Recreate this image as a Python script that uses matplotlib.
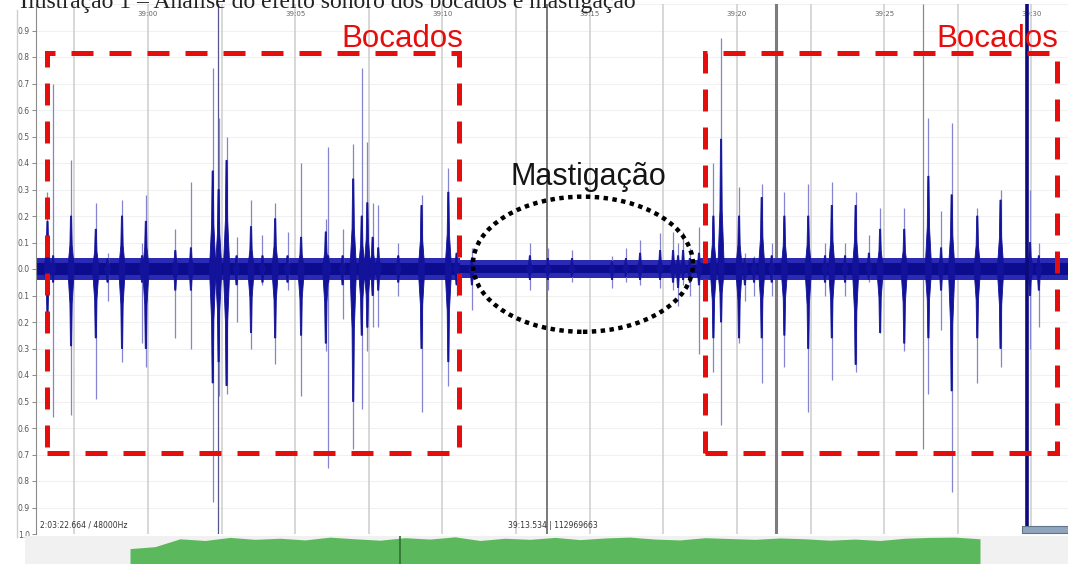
import numpy as np
import matplotlib
matplotlib.use("Agg")
import matplotlib.pyplot as plt
from matplotlib.patches import Rectangle, Ellipse
from matplotlib.lines import Line2D

# ---- data (time in s after 39:00, amplitude -1..1) ----
title = "Ilustração 1 – Análise do efeito sonoro dos bocados e mastigação"
time_ticks = [0, 5, 10, 15, 20, 25, 30]
time_labels = ["39:00", "39:05", "39:10", "39:15", "39:20", "39:25", "39:30"]

band_t = [-3.80, 10.60, 18.70, 31.24]
band_outer = [0.043, 0.034, 0.043]
band_inner = [0.022, 0.016, 0.022]

spike_t = [-3.41, -3.22, -2.61, -1.77, -1.37, -0.88, -0.20, -0.07, 0.93, 1.46,
           2.20, 2.40, 2.67, 3.01, 3.50, 3.89, 4.32, 4.74, 5.20, 6.04,
           6.12, 6.61, 6.97, 7.26, 7.45, 7.63, 7.82, 8.50, 9.29, 10.20,
           10.48, 11.00, 12.97, 13.58, 14.40, 15.76, 16.23, 16.71, 17.39, 17.83,
           18.00, 18.17, 18.40, 18.71, 19.20, 19.46, 20.07, 20.27, 20.58, 20.84,
           21.18, 21.61, 22.42, 22.99, 23.22, 23.67, 24.03, 24.48, 24.86, 25.68,
           26.50, 26.93, 27.29, 28.16, 28.95, 29.95, 30.25]
faint_up = [0.29, 0.70, 0.41, 0.25, 0.06, 0.26, 0.10, 0.28, 0.15, 0.33,
            0.76, 0.57, 0.50, 0.12, 0.26, 0.13, 0.25, 0.14, 0.40, 0.19,
            0.46, 0.15, 0.47, 0.76, 0.48, 0.25, 0.24, 0.10, 0.28, 0.38,
            0.13, 0.08, 0.10, 0.08, 0.07, 0.05, 0.08, 0.11, 0.135, 0.14,
            0.10, 0.14, 0.08, 0.16, 0.40, 0.87, 0.31, 0.06, 0.05, 0.32,
            0.10, 0.29, 0.32, 0.10, 0.33, 0.10, 0.29, 0.13, 0.23, 0.23,
            0.57, 0.22, 0.55, 0.23, 0.30, 0.30, 0.10]
faint_dn = [-0.20, -0.56, -0.55, -0.49, -0.12, -0.35, -0.28, -0.37, -0.26, -0.30,
            -0.88, -0.48, -0.47, -0.20, -0.30, -0.06, -0.36, -0.08, -0.48, -0.31,
            -0.75, -0.19, -0.68, -0.53, -0.31, -0.22, -0.22, -0.10, -0.54, -0.44,
            -0.10, -0.155, -0.08, -0.08, -0.05, -0.07, -0.05, -0.06, -0.07, -0.08,
            -0.14, -0.06, -0.10, -0.32, -0.39, -0.59, -0.28, -0.12, -0.10, -0.43,
            -0.10, -0.37, -0.54, -0.10, -0.42, -0.10, -0.39, -0.05, -0.24, -0.31,
            -0.47, -0.23, -0.84, -0.43, -0.37, -0.30, -0.22]
core_up = [0.18, 0.05, 0.20, 0.15, 0.04, 0.20, 0.05, 0.18, 0.07, 0.08,
           0.37, 0.30, 0.41, 0.05, 0.16, 0.05, 0.19, 0.05, 0.12, 0.14,
           0.05, 0.05, 0.34, 0.20, 0.25, 0.12, 0.08, 0.05, 0.24, 0.29,
           0.06, 0.04, 0.05, 0.04, 0.04, 0.03, 0.04, 0.06, 0.07, 0.07,
           0.05, 0.07, 0.04, 0.06, 0.20, 0.49, 0.20, 0.04, 0.04, 0.27,
           0.05, 0.20, 0.20, 0.05, 0.24, 0.05, 0.24, 0.06, 0.15, 0.15,
           0.35, 0.08, 0.28, 0.20, 0.26, 0.10, 0.05]
core_dn = [-0.17, -0.05, -0.29, -0.26, -0.05, -0.30, -0.05, -0.30, -0.08, -0.08,
           -0.43, -0.35, -0.44, -0.06, -0.24, -0.05, -0.26, -0.05, -0.25, -0.28,
           -0.05, -0.06, -0.50, -0.25, -0.22, -0.10, -0.08, -0.05, -0.30, -0.35,
           -0.06, -0.06, -0.04, -0.04, -0.03, -0.04, -0.03, -0.04, -0.04, -0.05,
           -0.07, -0.04, -0.05, -0.06, -0.26, -0.20, -0.26, -0.06, -0.05, -0.26,
           -0.05, -0.25, -0.30, -0.05, -0.26, -0.05, -0.36, -0.04, -0.24, -0.28,
           -0.26, -0.08, -0.46, -0.26, -0.30, -0.10, -0.08]

big_t, big_up, big_dn = 29.85, 1.00, -0.975

marker_t = [2.38, 13.55, 21.32]
marker_col = ["#55558f", "#6e6e6e", "#7c7c7c"]
marker_lw = [0.9, 1.3, 2.2]
short_marker_t, short_marker_low = 26.32, -0.68

overview_env = [0.55, 0.62, 0.90, 0.84, 0.95, 0.88, 0.92, 0.86, 0.96, 0.90,
                0.85, 0.94, 0.89, 0.97, 0.84, 0.92, 0.88, 0.95, 0.87, 0.93,
                0.96, 0.89, 0.86, 0.94, 0.91, 0.88, 0.93, 0.90, 0.85, 0.89,
                0.84, 0.92, 0.95, 0.96, 0.90]

W, H = 1068, 564
fx = lambda px: px / W
fy = lambda py: 1 - py / H

fig = plt.figure(figsize=(W / 100, H / 100), dpi=100)

ax = fig.add_axes([fx(36), fy(534), 1 - fx(36), (534 - 4) / H])
ax.set_xlim(-3.80, 31.24)
ax.set_ylim(-1, 1)

# grid
yt = np.round(np.arange(-1, 1.01, 0.1), 1)
for v in yt:
    ax.axhline(v, color="#f1f1f1", lw=0.8, zorder=0)
for t in np.arange(-2.5, 31.5, 2.5):
    ax.axvline(t, color="#cdcdcd", lw=1.1, zorder=0.5)
for t, c, w in zip(marker_t, marker_col, marker_lw):
    ax.axvline(t, color=c, lw=w, zorder=0.6)
ax.vlines(short_marker_t, short_marker_low, 1.0, color="#8a8a8a", lw=0.9, zorder=0.6)

# waveform: noise band, faint peak lines, tapered dark cores
bo = band_outer + band_outer[-1:]
bi = band_inner + band_inner[-1:]
ax.fill_between(band_t, [-b for b in bo], bo, step="post", color="#2a2ab4", lw=0, zorder=2)
ax.fill_between(band_t, [-b for b in bi], bi, step="post", color="#0c0c8e", lw=0, zorder=2.1)
ax.vlines(spike_t, faint_dn, faint_up, color="#8585cf", lw=0.9, zorder=2.2)
hw = 0.11
for t, up, dn in zip(spike_t, core_up, core_dn):
    xs = [t - hw, t - hw * 0.35, t - 0.02, t + 0.02, t + hw * 0.35, t + hw,
          t + hw * 0.35, t + 0.02, t - 0.02, t - hw * 0.35]
    ys = [0, up * 0.45, up, up, up * 0.45, 0, dn * 0.45, dn, dn, dn * 0.45]
    ax.fill(xs, ys, color="#12129a", lw=0.6, ec="#12129a", zorder=2.3)
ax.vlines(big_t, big_dn, big_up, color="#0b0b7c", lw=2.6, zorder=2.4)

# annotations
red = "#e60d0d"
for x0, x1 in [(-3.41, 10.57), (18.91, 30.86)]:
    ax.add_patch(Rectangle((x0, -0.693), x1 - x0, 0.814 + 0.693, fill=False,
                           ec=red, lw=3.6, ls=(0, (4.4, 3.2)), zorder=5))
ax.add_patch(Ellipse((14.77, 0.018), 7.47, 0.51, fill=False, ec="black",
                     lw=3.2, ls=(0, (1, 1)), zorder=5))
sans = ["Liberation Sans", "DejaVu Sans"]
ax.text(10.70, 0.838, "Bocados", color=red, fontsize=22.5, family=sans,
        ha="right", va="baseline", zorder=6)
ax.text(30.90, 0.838, "Bocados", color=red, fontsize=22.5, family=sans,
        ha="right", va="baseline", zorder=6)
ax.text(14.94, 0.317, "Mastigação", color="#151515", fontsize=22, family=sans,
        ha="center", va="baseline", zorder=6)

for t, lab in zip(time_ticks, time_labels):
    ax.text(t, 0.962, lab, ha="center", va="center", fontsize=5, color="#666666", zorder=1)

ax.set_yticks(yt[:-1])
ax.set_yticklabels([f"{abs(v):.1f}" for v in yt[:-1]])
ax.tick_params(axis="y", direction="out", length=3, width=0.6, color="#777777",
               labelsize=5.5, labelcolor="#555555", pad=1.5)
ax.set_xticks([])
for s in ["top", "right", "bottom"]:
    ax.spines[s].set_visible(False)
ax.spines["left"].set_color("#8a8a8a")
ax.spines["left"].set_linewidth(0.8)

fig.add_artist(Line2D([fx(17), fx(17)], [fy(10), fy(537)], color="#cfcfcf", lw=1))

# overview strip
sax = fig.add_axes([fx(25), 0, 1 - fx(25), (564 - 536) / H])
sax.set_facecolor("#f1f1f1")
sax.set_xlim(0, 1)
sax.set_ylim(0, 1)
pos = np.linspace((130 - 25) / 1043, (980 - 25) / 1043, len(overview_env))
sax.fill_between(pos, 0, overview_env, color="#5cb85c", lw=0)
sax.axvline((400 - 25) / 1043, color="#2f6f2f", lw=1.2)
sax.set_xticks([]); sax.set_yticks([])
for s in sax.spines.values():
    s.set_visible(False)

fig.text(fx(20), fy(8), title, family=["Liberation Serif", "DejaVu Serif"],
         fontsize=17, va="baseline", color="#222222")
fig.text(fx(40), fy(528), "2:03:22.664 / 48000Hz", fontsize=5.5, va="baseline", color="#333333")
fig.text(fx(508), fy(528), "39:13.534 | 112969663", fontsize=5.5, va="baseline", color="#333333")
fig.add_artist(Rectangle((fx(1022), fy(533)), fx(1068) - fx(1022), 7 / H,
                         transform=fig.transFigure, fc="#8fa5bd", ec="#60748c", lw=0.8))

fig.savefig("out.png", dpi=100)
